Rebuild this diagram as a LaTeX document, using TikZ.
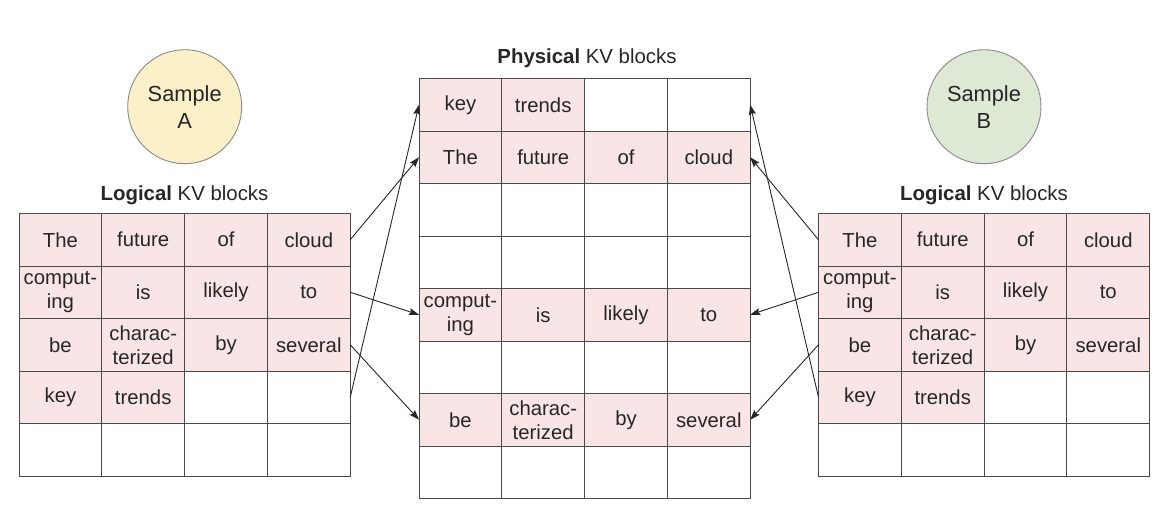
\documentclass[tikz,border=0pt]{standalone}
\usepackage{fontspec}
\setmainfont{Liberation Sans}
\usetikzlibrary{arrows.meta}
\definecolor{cellpink}{HTML}{F9E5E5}
\definecolor{gridc}{HTML}{4A4A4A}
\definecolor{sampyel}{HTML}{FBF0C8}
\definecolor{sampgrn}{HTML}{DDE8D5}
\definecolor{circline}{HTML}{8A8A8A}
\definecolor{arrc}{HTML}{262626}
\begin{document}
\begin{tikzpicture}[x=1pt,y=-1pt,
  cell/.style={rectangle, minimum width=82.8pt, minimum height=52.5pt, inner sep=0pt, outer sep=0pt, align=center, font=\fontsize{20.3}{24}\selectfont, text=black!85},
  gridbox/.style={draw=gridc, line width=1pt},
  sample/.style={circle, minimum size=114pt, inner sep=0pt, draw=circline, line width=0.9pt, align=center, font=\fontsize{21.8}{27}\selectfont, text=black!85},
  title/.style={font=\fontsize{20.4}{23}\selectfont, text=black!85, inner sep=0pt},
  arr/.style={draw=arrc, line width=0.9pt, -{Stealth[length=10pt,width=7pt,inset=1.5pt]}}
]
\useasboundingbox (0,0) rectangle (1174,514);

% Logical KV blocks, sample A
\foreach \r/\c/\f/\txt in {1/1/cellpink/The,1/2/cellpink/future,1/3/cellpink/of,1/4/cellpink/cloud,
  2/1/cellpink/comput-\\ing,2/2/cellpink/is,2/3/cellpink/likely,2/4/cellpink/to,
  3/1/cellpink/be,3/2/cellpink/charac-\\terized,3/3/cellpink/by,3/4/cellpink/several,
  4/1/cellpink/key,4/2/cellpink/trends,4/3/white/{},4/4/white/{},
  5/1/white/{},5/2/white/{},5/3/white/{},5/4/white/{}}
  \node[cell, fill=\f] (L\r\c) at ({19+(\c-0.5)*82.8},{213.5+(\r-0.5)*52.5}) {\txt};

% Logical KV blocks, sample B
\foreach \r/\c/\f/\txt in {1/1/cellpink/The,1/2/cellpink/future,1/3/cellpink/of,1/4/cellpink/cloud,
  2/1/cellpink/comput-\\ing,2/2/cellpink/is,2/3/cellpink/likely,2/4/cellpink/to,
  3/1/cellpink/be,3/2/cellpink/charac-\\terized,3/3/cellpink/by,3/4/cellpink/several,
  4/1/cellpink/key,4/2/cellpink/trends,4/3/white/{},4/4/white/{},
  5/1/white/{},5/2/white/{},5/3/white/{},5/4/white/{}}
  \node[cell, fill=\f] (R\r\c) at ({818.5+(\c-0.5)*82.8},{213.5+(\r-0.5)*52.5}) {\txt};

% Physical KV blocks
\foreach \r/\c/\f/\txt in {1/1/cellpink/key,1/2/cellpink/trends,1/3/white/{},1/4/white/{},
  2/1/cellpink/The,2/2/cellpink/future,2/3/cellpink/of,2/4/cellpink/cloud,
  3/1/white/{},3/2/white/{},3/3/white/{},3/4/white/{},
  4/1/white/{},4/2/white/{},4/3/white/{},4/4/white/{},
  5/1/cellpink/comput-\\ing,5/2/cellpink/is,5/3/cellpink/likely,5/4/cellpink/to,
  6/1/white/{},6/2/white/{},6/3/white/{},6/4/white/{},
  7/1/cellpink/be,7/2/cellpink/charac-\\terized,7/3/cellpink/by,7/4/cellpink/several,
  8/1/white/{},8/2/white/{},8/3/white/{},8/4/white/{}}
  \node[cell, fill=\f] (M\r\c) at ({419+(\c-0.5)*82.8},{78.5+(\r-0.5)*52.5}) {\txt};

% cell borders
\foreach \r in {1,...,5}
  \foreach \c in {1,...,4} {
    \draw[gridbox] (L\r\c.north west) rectangle (L\r\c.south east);
    \draw[gridbox] (R\r\c.north west) rectangle (R\r\c.south east);
  }
\foreach \r in {1,...,8}
  \foreach \c in {1,...,4}
    \draw[gridbox] (M\r\c.north west) rectangle (M\r\c.south east);

% titles
\node[title] (tL) at (184.5,195) {\textbf{Logical} KV blocks};
\node[title] (tR) at (984,195) {\textbf{Logical} KV blocks};
\node[title] (tM) at (587,58) {\textbf{Physical} KV blocks};

% samples
\node[sample, fill=sampyel] (sA) at (184.7,106.7) {Sample\\A};
\node[sample, fill=sampgrn] (sB) at (984,106.7) {Sample\\B};

% mappings, sample A
\draw[arr] (L14.east) -- (M21.west);
\draw[arr] (L44.east) -- (M11.west);
\draw[arr] (L24.east) -- (M51.west);
\draw[arr] (L34.east) -- (M71.west);

% mappings, sample B
\draw[arr] (R11.west) -- (M24.east);
\draw[arr] (R41.west) -- (M14.east);
\draw[arr] (R21.west) -- (M54.east);
\draw[arr] (R31.west) -- (M74.east);
\end{tikzpicture}
\end{document}
